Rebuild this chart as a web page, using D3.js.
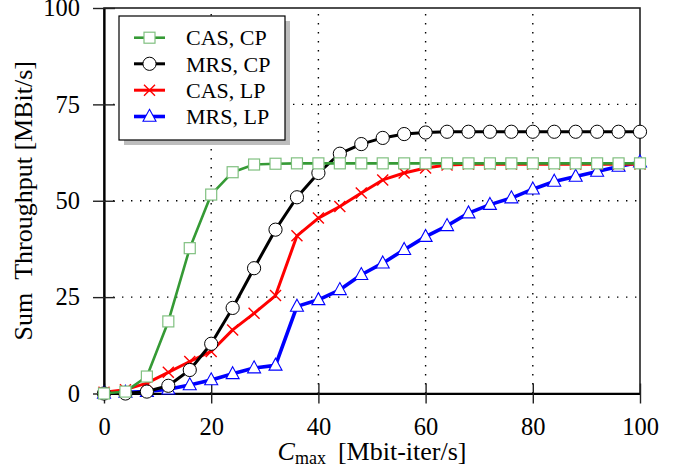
<!DOCTYPE html>
<html><head><meta charset="utf-8">
<script src="https://cdn.jsdelivr.net/npm/d3@7"></script>
<style>
html,body{margin:0;padding:0;background:#fff;}
svg{display:block;font-family:"Liberation Serif","Times New Roman",serif;}
</style></head>
<body><svg id="c" width="689" height="467"></svg>
<script>
const xValues = [0,4,8,12,16,20,24,28,32,36,40,44,48,52,56,60,64,68,72,76,80,84,88,92,96,100];
const casCP = [0,0.5,4.4,18.7,37.7,51.6,57.4,59.4,59.6,59.7,59.7,59.7,59.7,59.7,59.7,59.7,59.7,59.7,59.7,59.7,59.7,59.7,59.7,59.7,59.7,59.7];
const mrsCP = [0,0,0.5,2.0,6.1,12.9,22.2,32.5,42.5,50.9,57.2,62.2,64.7,66.3,67.3,67.7,67.9,67.9,67.9,67.9,67.9,67.9,67.9,67.9,67.9,67.9];
const casLP = [0.3,1.0,2.7,5.5,8.3,10.9,16.5,20.8,25.4,40.9,45.5,48.5,52.0,55.4,57.2,58.5,59.3,59.5,59.5,59.5,59.5,59.5,59.5,59.5,59.5,59.5];
const mrsLP = [0,0.3,0.5,1.1,2.2,3.5,5.1,6.6,7.3,22.6,24.3,26.9,30.8,33.8,37.3,40.7,43.5,46.8,49.0,50.7,53.0,55.0,56.3,57.6,58.9,60.0];
const seriesNames = ["CAS, CP","MRS, CP","CAS, LP","MRS, LP"];
const xTicks = [0,20,40,60,80,100];
const yTicks = [0,25,50,75,100];
const xLabelMain = "C";
const xLabelSub = "max";
const xLabelRest = "[Mbit-iter/s]";
const yLabel = "Sum\u2002Throughput [MBit/s]";

const svg = d3.select("#c");
const L=104, R=640, T=8, B=393.5;
const x = d3.scaleLinear().domain([0,100]).range([L,R]);
const y = d3.scaleLinear().domain([0,100]).range([B,T]);
const FONT = "Liberation Serif";

// grid
const grid = svg.append("g").attr("stroke","#000").attr("stroke-width",1.4).attr("stroke-dasharray","1.4,7.6");
xTicks.filter(v=>v>0&&v<100).forEach(v=>{
  grid.append("line").attr("x1",x(v)).attr("x2",x(v)).attr("y1",B).attr("y2",T);
});
yTicks.filter(v=>v>0&&v<100).forEach(v=>{
  grid.append("line").attr("x1",L).attr("x2",R).attr("y1",y(v)).attr("y2",y(v));
});

// frame
svg.append("rect").attr("x",L).attr("y",T).attr("width",R-L).attr("height",B-T)
  .attr("fill","none").attr("stroke","#222").attr("stroke-width",1.6);

// axes via d3
const xAxis = d3.axisBottom(x).tickValues(xTicks).tickSizeInner(10).tickSizeOuter(0).tickPadding(14);
const gx = svg.append("g").attr("transform",`translate(0,${B})`).call(xAxis)
  .attr("font-family",FONT).attr("font-size",24.5);
gx.select(".domain").attr("stroke","#000").attr("stroke-width",2.2);
gx.selectAll(".tick line").attr("stroke","#222").attr("stroke-width",1.4).attr("y1",-10).attr("y2",10);
gx.selectAll(".tick text").attr("fill","#000").attr("dy","0.70em");

const yAxis = d3.axisLeft(y).tickValues(yTicks).tickSizeInner(10).tickSizeOuter(0).tickPadding(14);
const gy = svg.append("g").attr("transform",`translate(${L},0)`).call(yAxis)
  .attr("font-family",FONT).attr("font-size",24.5);
gy.select(".domain").attr("stroke","#000").attr("stroke-width",2.2);
gy.selectAll(".tick line").attr("stroke","#222").attr("stroke-width",1.4).attr("x1",-11).attr("x2",11);
gy.selectAll(".tick text").attr("fill","#000");

// series
const styles = [
  {data:casCP, color:"#359a35", mstroke:"#80c080", marker:"square", w:2.6},
  {data:mrsCP, color:"#000", mstroke:"#000", marker:"circle", w:3},
  {data:casLP, color:"#ff0000", mstroke:"#ff0000", marker:"cross", w:3},
  {data:mrsLP, color:"#0000ff", mstroke:"#0000ff", marker:"triangle", w:3.6}
];
function drawMarker(g, type, cx, cy, st){
  if(type==="square"){
    g.append("rect").attr("x",cx-5.5).attr("y",cy-5.5).attr("width",11).attr("height",11)
      .attr("fill","#fff").attr("stroke",st.mstroke).attr("stroke-width",1.2);
  } else if(type==="circle"){
    g.append("circle").attr("cx",cx).attr("cy",cy).attr("r",6.6)
      .attr("fill","#fff").attr("stroke","#000").attr("stroke-width",1);
  } else if(type==="cross"){
    const s=5.5;
    g.append("path").attr("d",`M${cx-s},${cy-s}L${cx+s},${cy+s}M${cx-s},${cy+s}L${cx+s},${cy-s}`)
      .attr("stroke",st.mstroke).attr("stroke-width",1.4).attr("fill","none");
  } else if(type==="triangle"){
    const h=12, w=13;
    g.append("path").attr("d",`M${cx},${cy-h*0.6}L${cx+w/2},${cy+h*0.4}L${cx-w/2},${cy+h*0.4}Z`)
      .attr("fill","#fff").attr("stroke",st.mstroke).attr("stroke-width",1.1);
  }
}
const order=[3,2,1,0];
const line = d3.line().x((d,i)=>x(xValues[i])).y(d=>y(d));
order.forEach(k=>{
  const st=styles[k];
  const g=svg.append("g");
  g.append("path").datum(st.data).attr("d",line).attr("fill","none")
    .attr("stroke",st.color).attr("stroke-width",st.w).attr("stroke-linejoin","round");
  st.data.forEach((v,i)=>drawMarker(g, st.marker, x(xValues[i]), y(v), st));
});

// legend
const lg = svg.append("g");
const LX=119, LY=16, LW=166, LH=124;
lg.append("rect").attr("x",LX+5).attr("y",LY+5).attr("width",LW).attr("height",LH).attr("fill","#bdbdbd");
lg.append("rect").attr("x",LX).attr("y",LY).attr("width",LW).attr("height",LH).attr("fill","#fff").attr("stroke","#000").attr("stroke-width",1.2);
const ly = [37.7,63.8,90.2,116.5];
seriesNames.forEach((name,k)=>{
  const st=styles[k];
  lg.append("line").attr("x1",134).attr("x2",165).attr("y1",ly[k]).attr("y2",ly[k])
    .attr("stroke",st.color).attr("stroke-width",st.w);
  drawMarker(lg, st.marker, 149.5, ly[k], st);
  lg.append("text").attr("x",186).attr("y",ly[k]).attr("dy","0.35em").attr("font-size",22)
    .attr("font-family",FONT).attr("fill","#000").text(name);
});

// axis labels
const xl = svg.append("text").attr("x",372).attr("y",460).attr("text-anchor","middle")
  .attr("font-size",26).attr("font-family",FONT).attr("fill","#000");
xl.append("tspan").attr("font-style","italic").text(xLabelMain);
xl.append("tspan").attr("font-size",18).attr("dy",4).text(xLabelSub);
xl.append("tspan").attr("dy",-4).attr("dx",12).text(xLabelRest);

svg.append("text").attr("transform",`translate(23,${(T+B)/2}) rotate(-90)`).attr("text-anchor","middle")
  .attr("dy","0.35em").attr("font-size",26).attr("font-family",FONT).attr("fill","#000").text(yLabel);
</script></body></html>
